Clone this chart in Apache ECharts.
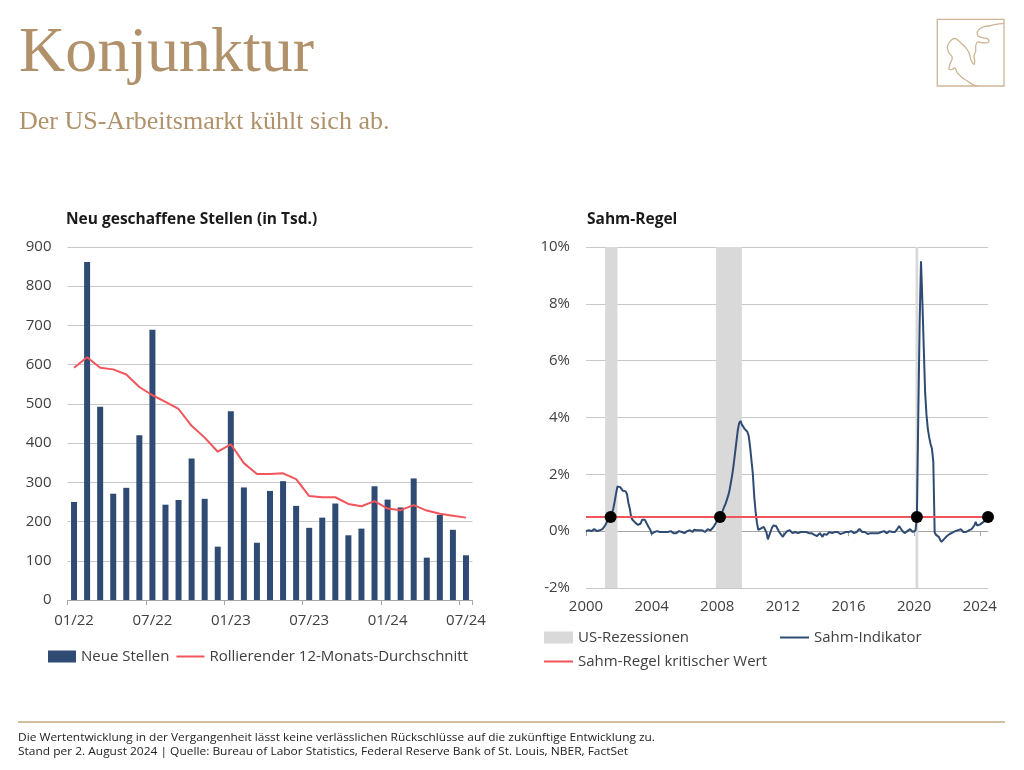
<!DOCTYPE html>
<html><head><meta charset="utf-8">
<script src="https://cdn.jsdelivr.net/npm/echarts@6/dist/echarts.min.js"></script>
<style>html,body{margin:0;padding:0;background:#fff}#c{width:1024px;height:770px}</style>
</head><body><div id="c"></div>
<script>
// ---------- Data: left chart (Neu geschaffene Stellen, in Tsd.) ----------
const jobMonths = ['01/22','02/22','03/22','04/22','05/22','06/22','07/22','08/22','09/22','10/22','11/22','12/22',
  '01/23','02/23','03/23','04/23','05/23','06/23','07/23','08/23','09/23','10/23','11/23','12/23',
  '01/24','02/24','03/24','04/24','05/24','06/24','07/24'];
const newJobs = [250, 862, 493, 271, 286, 420, 689, 243, 255, 361, 258, 136,
  481, 287, 146, 278, 303, 240, 184, 210, 246, 165, 182, 290,
  256, 236, 310, 108, 217, 179, 114];
const rollingAvg = [592, 619, 592, 588, 575, 543, 522, 505, 487, 444, 414, 378,
  397, 349, 321, 321, 323, 308, 265, 262, 262, 245, 239, 252,
  233, 229, 242, 228, 220, 215, 210];
const jobsAxis = { min: 0, max: 900, interval: 100 };

// ---------- Data: right chart (Sahm-Regel), monthly from 2000-01 ----------
const sahmStartYear = 2000;
const sahmIndicator = [
  /*2000*/ 0.0, -0.03, 0.03, 0.03, 0.0, 0.03, 0.07, 0.03, 0.0, 0.0, 0.03, 0.03,
  /*2001*/ 0.07, 0.13, 0.2, 0.3, 0.37, 0.43, 0.5, 0.63, 0.8, 1.05, 1.33, 1.57,
  /*2002*/ 1.62, 1.55, 1.5, 1.42, 1.43, 1.4, 1.3, 1.0, 0.8, 0.5, 0.4, 0.33,
  /*2003*/ 0.3, 0.27, 0.22, 0.18, 0.27, 0.4, 0.43, 0.4, 0.33, 0.22, 0.13, 0.05,
  /*2004*/ -0.1, -0.03, -0.03, -0.07, 0.0, -0.03, -0.03, -0.07, -0.03, 0.0, -0.03, -0.07,
  /*2005*/ -0.03, -0.07, 0.0, -0.03, -0.07, -0.1, -0.07, -0.03, 0.0, 0.05, -0.03, -0.07,
  /*2006*/ -0.07, -0.03, 0.0, -0.03, 0.03, 0.0, -0.03, 0.05, 0.08, 0.03, -0.03, 0.03,
  /*2007*/ 0.1, 0.03, 0.0, -0.03, 0.03, 0.07, 0.03, 0.03, 0.1, 0.13, 0.2, 0.29,
  /*2008*/ 0.38, 0.45, 0.5, 0.6, 0.72, 0.85, 0.95, 1.1, 1.25, 1.45, 1.72, 2.0,
  /*2009*/ 2.35, 2.75, 3.15, 3.55, 3.8, 3.88, 3.75, 3.68, 3.6, 3.55, 3.5, 3.35,
  /*2010*/ 2.97, 2.5, 2.03, 1.25, 0.7, 0.3, 0.05, 0.0, 0.1, 0.13, 0.15, 0.13,
  /*2011*/ -0.05, -0.29, -0.15, -0.02, 0.12, 0.2, 0.22, 0.18, 0.12, 0.0, -0.08, -0.15,
  /*2012*/ -0.2, -0.12, -0.05, 0.0, 0.05, 0.03, -0.03, -0.07, -0.1, -0.03, 0.0, -0.07,
  /*2013*/ -0.1, -0.03, 0.0, -0.03, -0.07, -0.03, -0.1, -0.07, 0.0, -0.07, -0.1, -0.13,
  /*2014*/ -0.1, -0.17, -0.13, -0.07, -0.13, -0.2, -0.1, -0.07, -0.13, -0.1, -0.03, -0.07,
  /*2015*/ -0.07, -0.1, -0.03, -0.07, -0.03, -0.07, -0.1, -0.03, -0.07, -0.03, -0.03, -0.07,
  /*2016*/ -0.03, -0.07, 0.0, -0.03, -0.07, 0.0, -0.03, 0.03, 0.08, 0.03, -0.03, -0.07,
  /*2017*/ -0.03, -0.07, -0.1, -0.03, -0.07, -0.1, -0.07, -0.03, -0.07, -0.1, -0.07, -0.03,
  /*2018*/ -0.03, -0.07, 0.0, -0.03, -0.07, -0.03, 0.0, -0.07, -0.03, -0.07, -0.03, 0.03,
  /*2019*/ 0.1, 0.18, 0.13, 0.03, -0.03, -0.07, -0.03, 0.0, 0.03, 0.07, 0.0, -0.03,
  /*2020*/ 0.0, 0.03, 0.5, 4.03, 7.3, 9.5, 8.1, 6.5, 4.9, 4.1, 3.6, 3.3,
  /*2021*/ 3.07, 2.9, 2.45, -0.05, -0.13, -0.17, -0.2, -0.3, -0.38, -0.33, -0.27, -0.2,
  /*2022*/ -0.17, -0.12, -0.1, -0.07, -0.05, -0.03, 0.0, 0.03, 0.03, 0.07, 0.07, 0.03,
  /*2023*/ -0.03, 0.0, -0.03, 0.0, 0.03, 0.03, 0.07, 0.13, 0.2, 0.33, 0.2, 0.17,
  /*2024*/ 0.23, 0.27, 0.3, 0.37, 0.37, 0.43, 0.53
];
const sahmThreshold = 0.5;
const recessions = [['2001-03', '2001-12'], ['2007-12', '2009-07'], ['2020-02', '2020-04']];
const sahmTriggers = ['2001-07', '2008-03', '2020-03', '2024-07'];
const sahmAxis = { min: -2, max: 10, interval: 2 };
const yearLabelStep = 48; // months between year labels

// month categories for the Sahm series
const sahmMonths = sahmIndicator.map((v, i) => {
  const y = sahmStartYear + Math.floor(i / 12), m = i % 12 + 1;
  return y + '-' + (m < 10 ? '0' + m : '' + m);
});

// ---------- Styles ----------
const NAVY = '#2f4b74';
const RED = '#f2545b';
const GREY_BAND = '#d9d9d9';
const GRID = '#c8c8c8';
const AXIS = '#a6a6a6';
const TAN = '#b0916a';
const LOGO = '#cdb595';
const TXT = '#404040';
const FONT = "'Open Sans', sans-serif";

function fitScale(text, font, target) {
  const c = document.createElement('canvas').getContext('2d');
  c.font = font;
  return target / c.measureText(text).width;
}
const foot1 = 'Die Wertentwicklung in der Vergangenheit lässt keine verlässlichen Rückschlüsse auf die zukünftige Entwicklung zu.';
const foot2 = 'Stand per 2. August 2024 | Quelle: Bureau of Labor Statistics, Federal Reserve Bank of St. Louis, NBER, FactSet';
const footFont = "11.5px 'Open Sans'";

const logoPoints = [[1004,23.3],[996,24.3],[989,26],[984,26.7],[980,28.7],[977.3,32],[978,36],[982.3,37.7],[987.3,38.7],[989,41],
  [987.3,42.7],[982.3,42.7],[977.3,42],[975.7,46],[975.7,51],[974,56],[974.7,61],[974,64.3],[971,60],[969,52.7],[965.7,47.7],
  [960.7,42.7],[955.7,38.7],[952.3,39.3],[949,43],[947.3,47.7],[949,52.7],[952.3,57.7],[950,64.3],[949,69.3],[952.3,69.3],
  [955,68],[957.3,72.7],[962.3,77.7],[967.3,81],[972.3,84.3],[977.3,86]];

const noSymbol = { opacity: 0 };
const chart = echarts.init(document.getElementById('c'), null, { renderer: 'canvas' });

const option = {
  animation: false,
  backgroundColor: '#fff',
  textStyle: { fontFamily: FONT },
  grid: [
    { left: 67.5, top: 247, width: 405, height: 353 },
    { left: 586, top: 247, width: 402, height: 341 }
  ],
  xAxis: [
    {
      type: 'category', gridIndex: 0, data: jobMonths, boundaryGap: true,
      axisLine: { lineStyle: { color: AXIS, width: 1 } },
      axisTick: { show: true, length: 5, interval: (i) => i % 6 === 0, lineStyle: { color: AXIS } },
      axisLabel: { interval: (i) => i % 6 === 0, color: TXT, fontSize: 15, margin: 13, fontFamily: FONT },
      splitLine: { show: false }
    },
    {
      type: 'category', gridIndex: 1, data: sahmMonths, boundaryGap: false, position: 'bottom',
      axisLine: { show: false, onZero: false },
      axisTick: { show: false },
      axisLabel: { interval: (i) => i % yearLabelStep === 0, formatter: (v) => v.slice(0, 4),
        color: TXT, fontSize: 15, margin: 11, fontFamily: FONT },
      splitLine: { show: false }
    },
    {
      type: 'category', gridIndex: 1, data: sahmMonths, boundaryGap: false, position: 'bottom',
      axisLine: { show: true, onZero: true, lineStyle: { color: AXIS, width: 1 } },
      axisTick: { show: true, length: 5, interval: (i) => i % yearLabelStep === 0, lineStyle: { color: AXIS } },
      axisLabel: { show: false },
      splitLine: { show: false }
    }
  ],
  yAxis: [
    {
      type: 'value', gridIndex: 0, min: jobsAxis.min, max: jobsAxis.max, interval: jobsAxis.interval,
      axisLine: { show: false }, axisTick: { show: false },
      axisLabel: { color: TXT, fontSize: 15, margin: 16, fontFamily: FONT },
      splitLine: { lineStyle: { color: GRID, width: 1 } }
    },
    {
      type: 'value', gridIndex: 1, min: sahmAxis.min, max: sahmAxis.max, interval: sahmAxis.interval,
      axisLine: { show: false }, axisTick: { show: false },
      axisLabel: { color: TXT, fontSize: 15, margin: 16, fontFamily: FONT, formatter: '{value}%' },
      splitLine: { lineStyle: { color: GRID, width: 1 } }
    }
  ],
  legend: [
    {
      left: 48, top: 649, padding: 0, itemWidth: 28, itemHeight: 12, itemGap: 6,
      textStyle: { color: TXT, fontSize: 15, fontFamily: FONT },
      data: [{ name: 'Neue Stellen', icon: 'rect' }, { name: 'Rollierender 12-Monats-Durchschnitt', itemStyle: noSymbol }]
    },
    {
      left: 543, top: 630, padding: 0, orient: 'vertical', itemWidth: 29, itemHeight: 12, itemGap: 9,
      textStyle: { color: TXT, fontSize: 15, fontFamily: FONT },
      data: [{ name: 'US-Rezessionen', icon: 'rect' }, { name: 'Sahm-Regel kritischer Wert', itemStyle: noSymbol }]
    },
    {
      left: 779, top: 630, padding: 0, itemWidth: 29, itemHeight: 12,
      textStyle: { color: TXT, fontSize: 15, fontFamily: FONT },
      data: [{ name: 'Sahm-Indikator', itemStyle: noSymbol }]
    }
  ],
  series: [
    {
      name: 'Neue Stellen', type: 'bar', xAxisIndex: 0, yAxisIndex: 0, data: newJobs,
      barWidth: 6, itemStyle: { color: NAVY }
    },
    {
      name: 'Rollierender 12-Monats-Durchschnitt', type: 'line', xAxisIndex: 0, yAxisIndex: 0,
      data: rollingAvg, symbol: 'none', showSymbol: false,
      lineStyle: { color: RED, width: 2 }, itemStyle: { color: RED }, z: 3
    },
    {
      name: 'US-Rezessionen', type: 'line', xAxisIndex: 1, yAxisIndex: 1, data: [],
      symbol: 'none', itemStyle: { color: GREY_BAND }, lineStyle: { color: GREY_BAND },
      markArea: {
        silent: true, itemStyle: { color: GREY_BAND },
        data: recessions.map(r => [{ xAxis: r[0] }, { xAxis: r[1] }])
      },
      z: 1
    },
    {
      name: 'Sahm-Indikator', type: 'line', xAxisIndex: 1, yAxisIndex: 1, data: sahmIndicator,
      symbol: 'none', showSymbol: false,
      lineStyle: { color: NAVY, width: 2 }, itemStyle: { color: NAVY }, z: 3
    },
    {
      name: 'Sahm-Regel kritischer Wert', type: 'line', xAxisIndex: 1, yAxisIndex: 1, data: [],
      symbol: 'none', lineStyle: { color: RED, width: 2 }, itemStyle: { color: RED },
      markLine: {
        silent: true, symbol: ['none', 'none'], label: { show: false },
        lineStyle: { color: RED, width: 2, type: 'solid' },
        data: [{ yAxis: sahmThreshold }]
      },
      z: 4
    },
    {
      name: 'Auslöser', type: 'scatter', xAxisIndex: 1, yAxisIndex: 1,
      data: sahmTriggers.map(m => [m, sahmThreshold]),
      symbol: 'circle', symbolSize: 12, itemStyle: { color: '#000', opacity: 1 }, z: 6
    }
  ],
  graphic: [
    { type: 'text', x: 19, y: 54, style: { text: 'Konjunktur', font: "64px 'Liberation Serif', serif", fill: TAN, verticalAlign: 'middle' } },
    { type: 'text', x: 19, y: 122, style: { text: 'Der US-Arbeitsmarkt kühlt sich ab.', font: "26px 'Liberation Serif', serif", fill: TAN, verticalAlign: 'middle' } },
    { type: 'text', x: 66, y: 220, style: { text: 'Neu geschaffene Stellen (in Tsd.)', font: "bold 15.5px 'Open Sans'", fill: '#1a1a1a', verticalAlign: 'middle' } },
    { type: 'text', x: 587, y: 220, style: { text: 'Sahm-Regel', font: "bold 15.5px 'Open Sans'", fill: '#1a1a1a', verticalAlign: 'middle' } },
    { type: 'rect', shape: { x: 937.3, y: 19.3, width: 66.7, height: 66.7 }, style: { fill: 'none', stroke: LOGO, lineWidth: 1.3 } },
    { type: 'polyline', shape: { points: logoPoints, smooth: 0.3 }, style: { fill: 'none', stroke: LOGO, lineWidth: 1.3 } },
    { type: 'line', shape: { x1: 18, y1: 722, x2: 1005, y2: 722 }, style: { stroke: '#c4a880', lineWidth: 1.5 } },
    { type: 'text', x: 18, y: 738, scaleX: fitScale(foot1, footFont, 637), style: { text: foot1, font: footFont, fill: '#222', verticalAlign: 'middle' } },
    { type: 'text', x: 18, y: 752, scaleX: fitScale(foot2, footFont, 610), style: { text: foot2, font: footFont, fill: '#222', verticalAlign: 'middle' } }
  ]
};
chart.setOption(option);
</script>
</body></html>
